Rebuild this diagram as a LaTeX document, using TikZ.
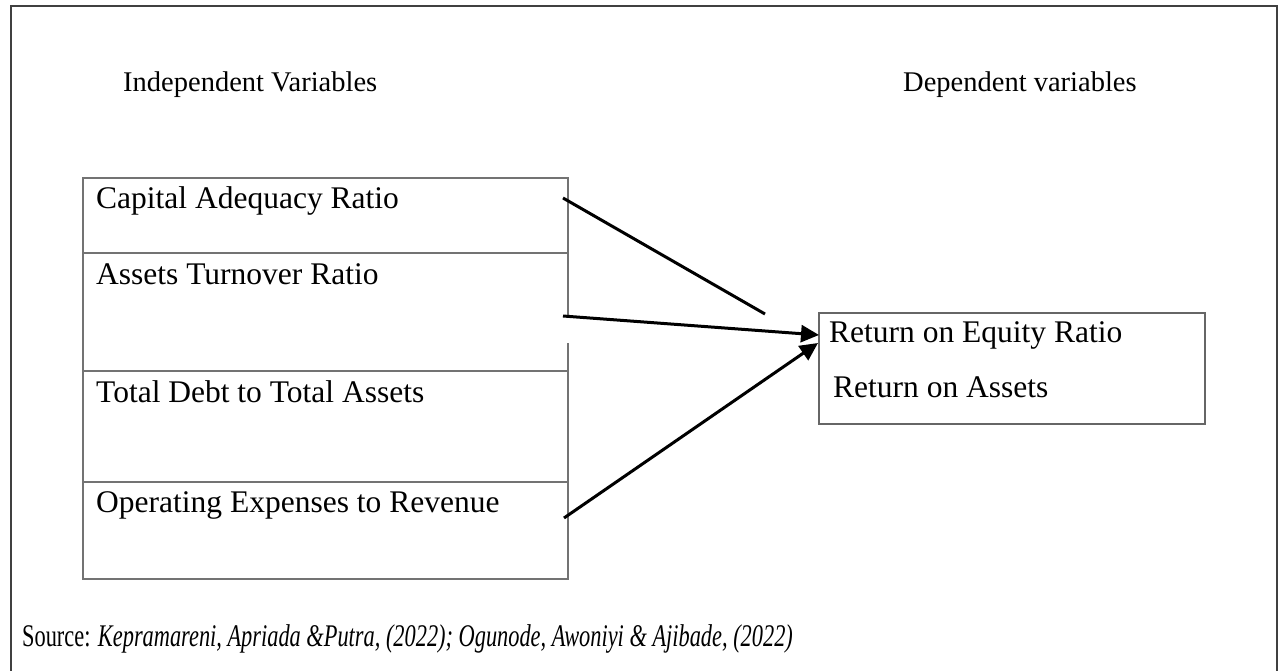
\documentclass[tikz,border=0pt]{standalone}
\usepackage{fontspec}
\setmainfont{Liberation Serif}
\usetikzlibrary{arrows.meta,positioning}

\begin{document}
\begin{tikzpicture}[x=1pt,y=-1pt,>={Triangle[length=18pt,width=17pt]},
  lbl/.style={anchor=base west,inner sep=0pt,font=\fontsize{31.5}{36}\selectfont},
  head/.style={anchor=base west,inner sep=0pt,font=\fontsize{28.5}{34}\selectfont},
  cellline/.style={draw=black!55,line width=1.6pt},
  arr/.style={line width=3pt}]
\useasboundingbox (0,0) rectangle (1284,671);
% outer frame, open at the bottom
\draw[line width=2.2pt,black!75] (11,671) -- (11,6) -- (1277,6) -- (1277,671);

% headings
\node[head] (indep) at (123,92) {Independent Variables};
\node[head] (depvar) at (903,92) {Dependent variables};

% left block
\draw[cellline] (568,315) -- (568,178) -- (83,178) -- (83,579) -- (568,579) -- (568,343);
\foreach \yy in {253,371,482} \draw[cellline] (83,\yy) -- (568,\yy);
\node[lbl] (car) at (96,208) {Capital Adequacy Ratio};
\node[lbl] (atr) at (96,284) {Assets Turnover Ratio};
\node[lbl] (tdta) at (96,402) {Total Debt to Total Assets};
\node[lbl] (oer) at (96,512) {Operating Expenses to Revenue};

% right block
\node[draw=black!60,line width=1.6pt,minimum width=386pt,minimum height=111pt,
  anchor=north west,inner sep=0pt] (depbox) at (818,312) {};
\node[lbl] (roe) at (829,342) {Return on Equity Ratio};
\node[lbl] (roa) at (833,397) {Return on Assets};

% arrow ends
\coordinate (car-out) at (563,198);
\coordinate (atr-out) at (563,316);
\coordinate (oer-out) at (564,518);
\coordinate (cut) at (765,314);
\coordinate (roe-in) at (819,335);
\coordinate (roe-in2) at (818,343);

\draw[arr] (car-out) -- (cut);
\draw[arr,->] (atr-out) -- (roe-in);
\draw[arr,->] (oer-out) -- (roe-in2);

% source
\node[lbl] (src) at (22,646) {\scalebox{0.71}[1]{Source: \textit{Kepramareni, Apriada \&Putra, (2022); Ogunode, Awoniyi \& Ajibade, (2022)}}};
\end{tikzpicture}
\end{document}
